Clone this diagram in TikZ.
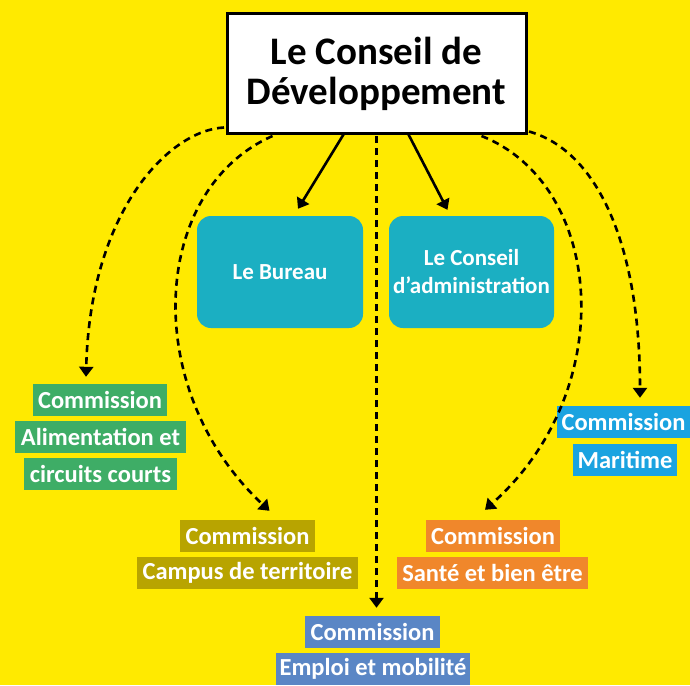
\documentclass[tikz,border=0pt]{standalone}
\usepackage{fontspec}
\setmainfont{Carlito}
\usetikzlibrary{arrows.meta}
\definecolor{bgyellow}{HTML}{FFEA00}
\definecolor{tealbox}{HTML}{1BAFC2}
\definecolor{greenbox}{HTML}{3EAD66}
\definecolor{olivebox}{HTML}{B8A400}
\definecolor{bluebox}{HTML}{5A86C5}
\definecolor{orangebox}{HTML}{F0872B}
\definecolor{skybox}{HTML}{1AA3E0}
\begin{document}
\begin{tikzpicture}[x=1pt,y=-1pt,
  lab/.style={inner sep=0pt, font=\fontsize{24.5}{26}\selectfont\bfseries, text=white, minimum height=32pt},
  titlebox/.style={draw=black, line width=3pt, fill=white, inner sep=0pt, minimum width=299pt, minimum height=119pt, align=center, font=\fontsize{39}{40}\selectfont\bfseries},
  tealnode/.style={fill=tealbox, rounded corners=14pt, inner sep=0pt, minimum width=166pt, minimum height=112pt, align=center, text=white, font=\fontsize{23}{28}\selectfont\bfseries},
  dasharrow/.style={line width=2.6pt, dash pattern=on 7pt off 5pt, -{Triangle[width=14pt,length=10pt]}},
  solidarrow/.style={line width=2.6pt, -{Triangle[width=14pt,length=10pt]}}
]
\fill[bgyellow] (0,0) rectangle (690,685);

\node[titlebox] (title) at (376.5,73.5) {Le Conseil de\\Développement};
\node[tealnode] (bureau) at (280,272) {Le Bureau};
\node[tealnode, minimum width=165pt] (ca) at (471.5,272) {Le Conseil\\d’administration};

\node[lab, fill=greenbox, minimum width=134pt] (gc1) at (100,400) {Commission};
\node[lab, fill=greenbox, minimum width=171pt] (gc2) at (100.5,437) {Alimentation et};
\node[lab, fill=greenbox, minimum width=153pt] (gc3) at (100.5,474) {circuits courts};

\node[lab, fill=olivebox, minimum width=135pt] (oc1) at (247.5,536) {Commission};
\node[lab, fill=olivebox, minimum width=221pt] (oc2) at (247.5,573) {Campus de territoire};

\node[lab, fill=bluebox, minimum width=135pt] (bc1) at (372.5,632) {Commission};
\node[lab, fill=bluebox, minimum width=194pt] (bc2) at (373,669) {Emploi et mobilité};

\node[lab, fill=orangebox, minimum width=134pt] (rc1) at (493,536) {Commission};
\node[lab, fill=orangebox, minimum width=191pt] (rc2) at (492.5,573) {Santé et bien être};

\node[lab, fill=skybox, minimum width=133pt] (mc1) at (623.5,422) {Commission};
\node[lab, fill=skybox, minimum width=104pt] (mc2) at (625,460) {Maritime};

% solid arrows
\draw[solidarrow] ([xshift=-33pt]title.south) -- ([xshift=18pt,yshift=7pt]bureau.north);
\draw[solidarrow] ([xshift=32pt]title.south) -- ([xshift=-24pt,yshift=6pt]ca.north);

% dashed arrows
\draw[dasharrow] ([yshift=-1.5pt]title.south) -- ([yshift=8pt]title.south |- bc1.north);
\draw[dasharrow] ([xshift=-1.5pt,yshift=7pt]title.south west) .. controls (170,130) and (90,210) .. ([xshift=-14pt,yshift=7pt]gc1.north);
\draw[dasharrow] ([xshift=-104pt,yshift=-1.5pt]title.south) .. controls (150,190) and (140,390) .. ([xshift=22pt,yshift=9pt]oc1.north);
\draw[dasharrow] ([xshift=105pt,yshift=-1.5pt]title.south) .. controls (605,185) and (620,390) .. ([xshift=-8pt,yshift=10pt]rc1.north);
\draw[dasharrow] ([xshift=1.5pt,yshift=3pt]title.south east) .. controls (595,150) and (640,240) .. ([xshift=16.5pt,yshift=8pt]mc1.north);
\end{tikzpicture}
\end{document}
